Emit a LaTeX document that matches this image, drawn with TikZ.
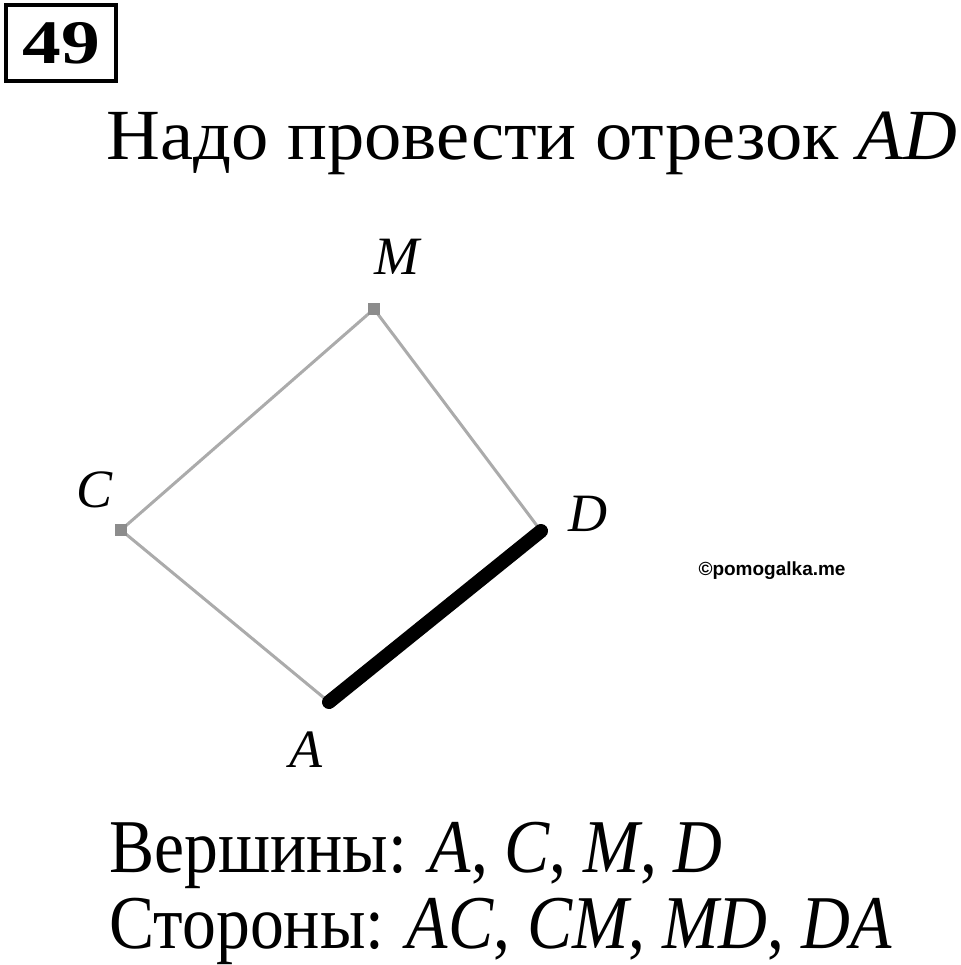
\documentclass[tikz,border=0pt]{standalone}
\usepackage{fontspec}
\setmainfont{Liberation Serif}
\newfontfamily\wmfont{Liberation Sans}
\begin{document}
\begin{tikzpicture}[x=1pt, y=-1pt, line width = 3pt, draw = black!33]
			\useasboundingbox (0,0) rectangle (960,965);
			\tikzset{vertex/.style={rectangle, fill=black!45, minimum size=12pt, inner sep=0pt},
				lbl/.style={font=\fontsize{54}{54}\selectfont\itshape, text=black, inner sep=0pt},
				big/.style={font=\fontsize{76}{80}\selectfont, text=black, inner sep=0pt, anchor=base west}}
			% number in a frame
			\node[draw=black, line width=3.5pt, minimum width=110pt, minimum height=76pt,
				font=\fontsize{62}{62}\selectfont\bfseries] (num) at (61,43) {\scalebox{1.25}[1]{49}};
			\node[big, font=\fontsize{72}{76}\selectfont] (title) at (105,160) {\scalebox{1.035}[1]{Надо провести отрезок \textit{AD}}};
			% figure
			\node[vertex] (M) at (374,309) {};
			\node[vertex] (C) at (121,530) {};
			\coordinate (D) at (541,531);
			\coordinate (A) at (329,702);
			\draw (C.center) -- (M.center) -- (D);
			\draw (C.center) -- (A);
			\node[vertex] at (M) {};
			\node[vertex] at (C) {};
			\draw [draw=black, line width=14pt, line cap=round] (A) -- (D);
			\node[lbl] at (397,257) {M};
			\node[lbl] at (95,490) {C};
			\node[lbl] at (588,514) {D};
			\node[lbl] at (306,750) {A};
			\node[font=\wmfont\fontsize{19}{19}\selectfont\bfseries, anchor=west, inner sep=0pt] (wm) at (697,571) {©pomogalka.me};
			% answer
			\node[big] (verts) at (108,872) {\scalebox{0.89}[1]{Вершины: \textit{A}, \textit{C}, \textit{M}, \textit{D}}};
			\node[big] (sides) at (108,948) {\scalebox{0.89}[1]{Стороны: \textit{AC}, \textit{CM}, \textit{MD}, \textit{DA}}};
			\end{tikzpicture}
\end{document}
